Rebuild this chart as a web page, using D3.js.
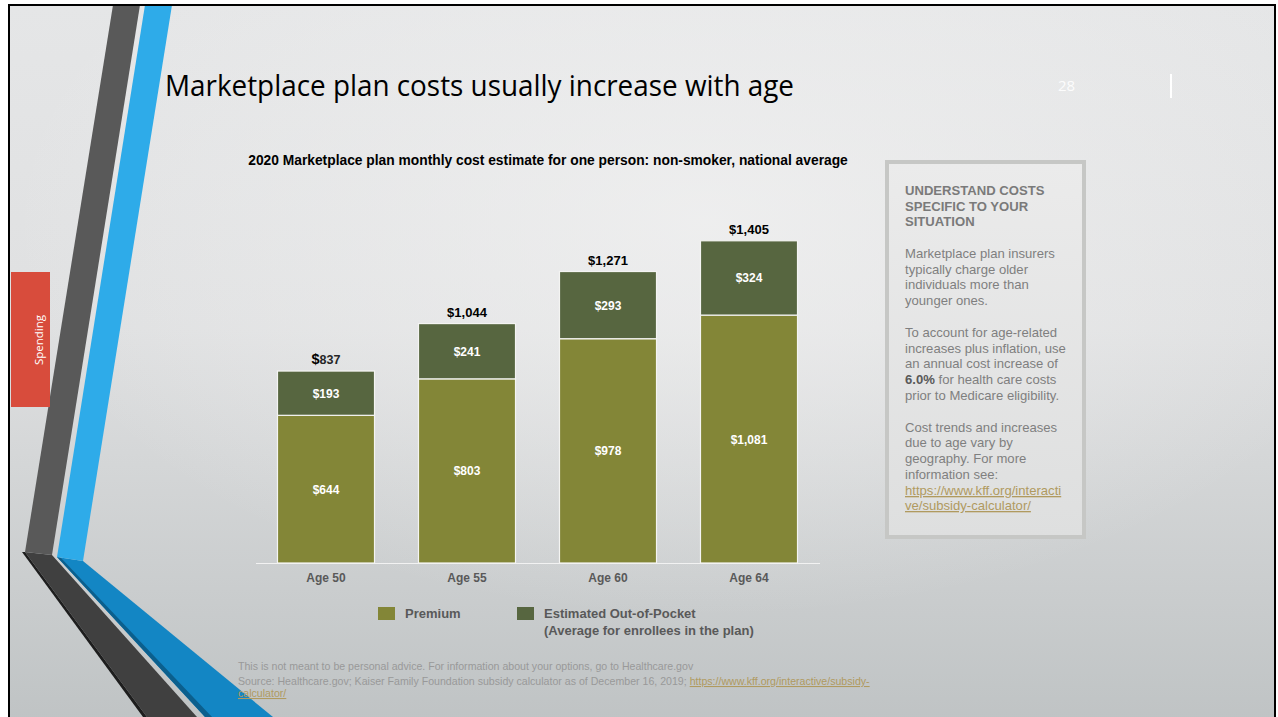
<!DOCTYPE html>
<html>
<head>
<meta charset="utf-8">
<script src="https://cdn.jsdelivr.net/npm/d3@7"></script>
<style>
  html, body { margin: 0; padding: 0; background: #ffffff; }
  svg { display: block; }
</style>
</head>
<body>
<svg id="slide" width="1278" height="717"></svg>
<script>
// Monthly cost estimate per age group (USD)
const ages = ["Age 50", "Age 55", "Age 60", "Age 64"];
const premium = [644, 803, 978, 1081];
const outOfPocket = [193, 241, 293, 324];
const totals = [837, 1044, 1271, 1405];
const seriesNames = ["Premium", "Estimated Out-of-Pocket"];

const W = 1278, H = 717;
const svg = d3.select("#slide");
const defs = svg.append("defs");

// Slide background
const bg = defs.append("linearGradient").attr("id", "bgGrad")
  .attr("x1", 0).attr("y1", 0).attr("x2", 0).attr("y2", 1);
bg.append("stop").attr("offset", "0%").attr("stop-color", "#e5e6e7");
bg.append("stop").attr("offset", "45%").attr("stop-color", "#dfe0e1");
bg.append("stop").attr("offset", "100%").attr("stop-color", "#bfc3c4");
const glow = defs.append("radialGradient").attr("id", "glow")
  .attr("cx", 0.55).attr("cy", 0.3).attr("r", 0.55);
glow.append("stop").attr("offset", "0%").attr("stop-color", "#f2f2f2").attr("stop-opacity", 0.75);
glow.append("stop").attr("offset", "100%").attr("stop-color", "#f2f2f2").attr("stop-opacity", 0);

svg.append("rect").attr("x", 0).attr("y", 0).attr("width", W).attr("height", H).attr("fill", "#ffffff");
svg.append("rect").attr("x", 9).attr("y", 5).attr("width", 1266).attr("height", 720).attr("fill", "url(#bgGrad)");
svg.append("rect").attr("x", 9).attr("y", 5).attr("width", 1266).attr("height", 720).attr("fill", "url(#glow)");

// Decorative ribbons on the left edge
const ribbons = [
  { pts: [[25, 552], [52, 555], [197, 717], [147, 717]], fill: "#404040" },
  { pts: [[22, 552], [25, 552], [147, 717], [143, 717]], fill: "#1e1e1e" },
  { pts: [[113, 5], [140, 5], [52, 555], [25, 552]], fill: "#595959" },
  { pts: [[57, 557], [83, 561], [273, 717], [205, 717]], fill: "#1386c4" },
  { pts: [[57, 557], [61, 558], [212, 717], [205, 717]], fill: "#0b5f8d" },
  { pts: [[145, 5], [172, 5], [83, 561], [57, 557]], fill: "#2eabe9" }
];
svg.append("g").selectAll("polygon").data(ribbons).join("polygon")
  .attr("points", d => d.pts.map(p => p.join(",")).join(" "))
  .attr("fill", d => d.fill);

// Section tab
svg.append("rect").attr("x", 11).attr("y", 272).attr("width", 39).attr("height", 135).attr("fill", "#d84c3c");
svg.append("text").attr("transform", "translate(43,340) rotate(-90)")
  .attr("text-anchor", "middle").attr("font-family", "Open Sans, sans-serif")
  .attr("font-size", 11.5).attr("fill", "#ffffff").text("Spending");

// Slide frame
svg.append("rect").attr("x", 9).attr("y", 5).attr("width", 1266).attr("height", 730)
  .attr("fill", "none").attr("stroke", "#000000").attr("stroke-width", 2);

// Title
const title = svg.append("text").attr("x", 165).attr("y", 96)
  .attr("font-family", "Open Sans, sans-serif").attr("font-size", 29).attr("fill", "#000000")
  .text("Marketplace plan costs usually increase with age");
title.attr("textLength", 629).attr("lengthAdjust", "spacingAndGlyphs");

// Page number and divider
svg.append("text").attr("x", 1058).attr("y", 91).attr("font-family", "Open Sans, sans-serif")
  .attr("font-size", 15).attr("fill", "#ffffff").attr("fill-opacity", 0.9).text("28");
svg.append("line").attr("x1", 1171).attr("x2", 1171).attr("y1", 74).attr("y2", 98)
  .attr("stroke", "#ffffff").attr("stroke-width", 2);

// Chart heading
svg.append("text").attr("x", 548).attr("y", 165).attr("text-anchor", "middle")
  .attr("font-family", "Liberation Sans, Arial, sans-serif").attr("font-weight", "bold")
  .attr("font-size", 13.8).attr("fill", "#000000")
  .text("2020 Marketplace plan monthly cost estimate for one person: non-smoker, national average");

// Scales
const x = d3.scaleBand().domain(ages).range([255.5, 819.5]).paddingInner(0.312).paddingOuter(0.156);
const y = d3.scaleLinear().domain([0, 1500]).range([563, 219]);
const color = d3.scaleOrdinal().domain(seriesNames).range(["#838637", "#576640"]);

const rows = ages.map((a, i) => ({ age: a, Premium: premium[i], "Estimated Out-of-Pocket": outOfPocket[i], total: totals[i] }));
const stacked = d3.stack().keys(seriesNames)(rows);

const chart = svg.append("g");
const layers = chart.selectAll("g.layer").data(stacked).join("g").attr("class", "layer")
  .attr("fill", d => color(d.key));
layers.selectAll("rect").data(d => d).join("rect")
  .attr("x", d => x(d.data.age))
  .attr("width", x.bandwidth())
  .attr("y", d => y(d[1]))
  .attr("height", d => y(d[0]) - y(d[1]))
  .attr("stroke", "#f4f4f2").attr("stroke-width", 1.2);

// Segment value labels
layers.selectAll("text").data(d => d).join("text")
  .attr("x", d => x(d.data.age) + x.bandwidth() / 2)
  .attr("y", d => (y(d[0]) + y(d[1])) / 2 + 4.5)
  .attr("text-anchor", "middle")
  .attr("font-family", "Liberation Sans, Arial, sans-serif").attr("font-weight", "bold")
  .attr("font-size", 12).attr("fill", "#ffffff")
  .text(d => "$" + d3.format(",")(d[1] - d[0]));

// Baseline
const xAxis = chart.append("g").attr("transform", `translate(0,${y(0)})`)
  .call(d3.axisBottom(x).tickSize(0).tickPadding(10));
xAxis.select(".domain").attr("stroke", "#f2f2f2").attr("stroke-width", 1.2);
xAxis.selectAll("text").attr("font-family", "Liberation Sans, Arial, sans-serif")
  .attr("font-weight", "bold").attr("font-size", 12).attr("fill", "#595959");

// Totals above the bars
const totalLabels = chart.selectAll("text.total").data(rows).join("text").attr("class", "total")
  .attr("x", d => x(d.age) + x.bandwidth() / 2)
  .attr("y", d => y(d.total) - 7)
  .attr("text-anchor", "middle")
  .attr("font-family", "Liberation Sans, Arial, sans-serif").attr("font-weight", "bold")
  .attr("font-size", 13).attr("fill", "#000000");
totalLabels.each(function (d, i) {
  const t = d3.select(this);
  if (i === 0) {
    t.append("tspan").attr("font-size", 14.5).text("$");
    t.append("tspan").attr("font-size", 12.5).attr("fill", "#262626").text(d3.format(",")(d.total));
  } else {
    t.text("$" + d3.format(",")(d.total));
  }
});

// Legend
const legendItems = [
  { key: seriesNames[0], x: 378, lines: ["Premium"] },
  { key: seriesNames[1], x: 517, lines: ["Estimated Out-of-Pocket", "(Average for enrollees in the plan)"] }
];
const legend = svg.append("g");
const li = legend.selectAll("g").data(legendItems).join("g");
li.append("rect").attr("x", d => d.x).attr("y", 607).attr("width", 17).attr("height", 13)
  .attr("fill", d => color(d.key));
li.append("text").attr("font-family", "Liberation Sans, Arial, sans-serif").attr("font-weight", "bold")
  .attr("font-size", 13).attr("fill", "#595959")
  .selectAll("tspan").data(d => d.lines.map((l, k) => ({ l, k, x: d.x + 27 }))).join("tspan")
  .attr("x", d => d.x).attr("y", d => 618 + d.k * 17).text(d => d.l);

// Side note box
const boxGrad = defs.append("linearGradient").attr("id", "boxGrad")
  .attr("x1", 0).attr("y1", 0).attr("x2", 0).attr("y2", 1);
boxGrad.append("stop").attr("offset", "0%").attr("stop-color", "#ebebeb");
boxGrad.append("stop").attr("offset", "100%").attr("stop-color", "#dedfdf");
svg.append("rect").attr("x", 887).attr("y", 162).attr("width", 197).attr("height", 375)
  .attr("fill", "url(#boxGrad)").attr("stroke", "#c6c7c5").attr("stroke-width", 4);

const noteFont = "Liberation Sans, Arial, sans-serif";
const noteHead = ["UNDERSTAND COSTS", "SPECIFIC TO YOUR", "SITUATION"];
const note = svg.append("g").attr("font-family", noteFont).attr("font-size", 13.1);
note.append("text").attr("fill", "#7a7a7a").attr("font-weight", "bold")
  .selectAll("tspan").data(noteHead).join("tspan")
  .attr("x", 905).attr("y", (d, i) => 195 + i * 15.7).text(d => d);

const noteBody = [
  { y: 258, parts: [["Marketplace plan insurers"]] },
  { y: 274, parts: [["typically charge older"]] },
  { y: 289, parts: [["individuals more than"]] },
  { y: 305, parts: [["younger ones."]] },
  { y: 337, parts: [["To account for age-related"]] },
  { y: 353, parts: [["increases plus inflation, use"]] },
  { y: 368, parts: [["an annual cost increase of"]] },
  { y: 384, parts: [["6.0%", "bold"], [" for health care costs"]] },
  { y: 400, parts: [["prior to Medicare eligibility."]] },
  { y: 432, parts: [["Cost trends and increases"]] },
  { y: 447, parts: [["due to age vary by"]] },
  { y: 463, parts: [["geography. For more"]] },
  { y: 479, parts: [["information see:"]] },
  { y: 495, parts: [["https://www.kff.org/interacti", "link"]] },
  { y: 510, parts: [["ve/subsidy-calculator/", "link"]] }
];
note.selectAll("text.body").data(noteBody).join("text").attr("class", "body")
  .attr("x", 905).attr("y", d => d.y).attr("fill", "#7f7f7f")
  .each(function (d) {
    d3.select(this).selectAll("tspan").data(d.parts).join("tspan")
      .attr("font-weight", p => p[1] === "bold" ? "bold" : null)
      .attr("fill", p => p[1] === "bold" ? "#595959" : p[1] === "link" ? "#b09a5f" : null)
      .attr("text-decoration", p => p[1] === "link" ? "underline" : null)
      .text(p => p[0]);
  });

// Footnotes
const foot = svg.append("g").attr("font-family", noteFont).attr("font-size", 10.6).attr("fill", "#999999");
foot.append("text").attr("x", 238).attr("y", 670)
  .text("This is not meant to be personal advice. For information about your options, go to Healthcare.gov");
const src = foot.append("text").attr("x", 238).attr("y", 685);
src.append("tspan").text("Source: Healthcare.gov; Kaiser Family Foundation subsidy calculator as of December 16, 2019; ");
src.append("tspan").attr("fill", "#b09a5f").attr("text-decoration", "underline")
  .text("https://www.kff.org/interactive/subsidy-");
foot.append("text").attr("x", 238).attr("y", 697).attr("fill", "#b09a5f")
  .attr("text-decoration", "underline").text("calculator/");
</script>
</body>
</html>
